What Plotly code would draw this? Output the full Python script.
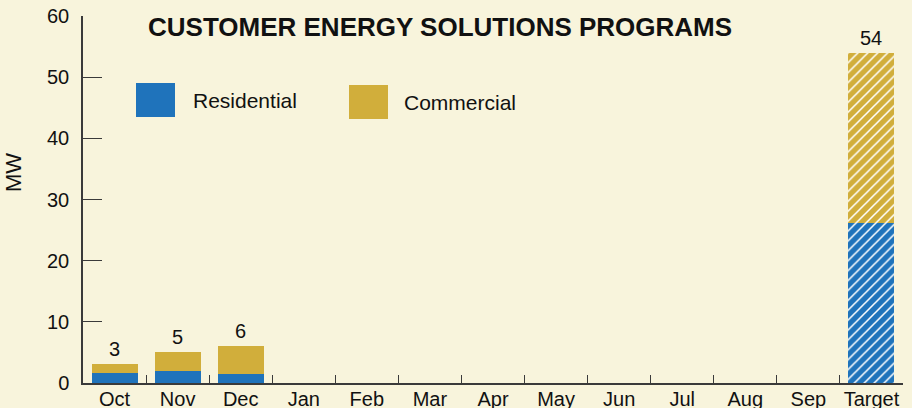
import plotly.graph_objects as go

categories = ["Oct", "Nov", "Dec", "Jan", "Feb", "Mar", "Apr", "May", "Jun",
              "Jul", "Aug", "Sep", "Target"]
residential = [1.7, 2.0, 1.5, None, None, None, None, None, None, None, None, None, 26.2]
commercial = [1.45, 3.1, 4.6, None, None, None, None, None, None, None, None, None, 27.8]
total_labels = ["3", "5", "6", None, None, None, None, None, None, None, None, None, "54"]
y_ticks = [0, 10, 20, 30, 40, 50, 60]
title_text = "CUSTOMER ENERGY SOLUTIONS PROGRAMS"

BLUE = "#1F73BB"
GOLD = "#D1AE3B"
BG = "#F8F4DC"
INK = "#111111"
AXIS = "#3a3a3a"
FONT = "Liberation Sans, Arial, Helvetica, sans-serif"

shapes_pattern = ["" if c != "Target" else "/" for c in categories]

fig = go.Figure()
fig.add_trace(go.Bar(
    x=categories, y=residential, name="Residential",
    marker=dict(color=BLUE, line=dict(width=0),
                pattern=dict(shape=shapes_pattern, fgcolor="white", bgcolor=BLUE,
                             size=7, solidity=0.22, fillmode="replace")),
    width=0.73,
))
fig.add_trace(go.Bar(
    x=categories, y=commercial, name="Commercial",
    marker=dict(color=GOLD, line=dict(width=0),
                pattern=dict(shape=shapes_pattern, fgcolor="white", bgcolor=GOLD,
                             size=7, solidity=0.22, fillmode="replace")),
    width=0.73,
))

annotations = []
for cat, r, c, lab in zip(categories, residential, commercial, total_labels):
    if lab is None:
        continue
    annotations.append(dict(
        x=cat, y=(r or 0) + (c or 0), xref="x", yref="y", text=lab,
        showarrow=False, yanchor="bottom", yshift=2,
        font=dict(family=FONT, size=20, color=INK)))

# title
annotations.append(dict(
    x=(146 - 83) / 820, y=(383 - 27.5) / 367, xref="paper", yref="paper",
    text=title_text, showarrow=False, xanchor="left", yanchor="middle",
    font=dict(family=FONT, size=26, color=INK, weight="bold")))
# y axis title
annotations.append(dict(
    x=(13 - 83) / 820, y=(383 - 173) / 367, xref="paper", yref="paper",
    text="MW", showarrow=False, textangle=-90, xanchor="center", yanchor="middle",
    font=dict(family=FONT, size=22, color=INK)))

# legend (custom)
legend_items = [("Residential", BLUE, 136, 83, 191), ("Commercial", GOLD, 349, 85, 402)]
shapes = []
for name, col, x0, y0, tx in legend_items:
    shapes.append(dict(type="rect", xref="paper", yref="paper",
                       x0=(x0 - 83) / 820, x1=(x0 + 39 - 83) / 820,
                       y0=(383 - y0 - 34) / 367, y1=(383 - y0) / 367,
                       fillcolor=col, line=dict(width=0)))
    annotations.append(dict(
        x=(tx - 83) / 820, y=(383 - (y0 + 17)) / 367, xref="paper", yref="paper",
        text=name, showarrow=False, xanchor="left", yanchor="middle",
        font=dict(family=FONT, size=21, color=INK)))

fig.update_layout(
    width=912, height=408,
    margin=dict(l=83, r=9, t=16, b=25, autoexpand=False),
    paper_bgcolor=BG, plot_bgcolor=BG,
    barmode="stack", showlegend=False,
    font=dict(family=FONT, size=20, color=INK),
    annotations=annotations, shapes=shapes,
    xaxis=dict(type="category", range=[-0.5, 12.5], tickson="boundaries",
               ticks="inside", ticklen=8, tickwidth=1.3, tickcolor=AXIS,
               showline=True, linecolor=AXIS, linewidth=1.5, showgrid=False,
               zeroline=False, tickangle=0, automargin=False, ticklabelstandoff=-3,
               tickfont=dict(size=20, color=INK), fixedrange=True),
    yaxis=dict(range=[0, 60], tickvals=y_ticks, ticks="inside", ticklen=19,
               tickwidth=1.3, tickcolor=AXIS, showline=True, linecolor=AXIS,
               linewidth=1.5, showgrid=False, zeroline=False, automargin=False,
               ticklabelstandoff=8, tickfont=dict(size=20, color=INK), fixedrange=True),
)

fig.write_html("out.html", config={"displayModeBar": False},
               post_script="document.body.style.margin='0';document.body.style.background='%s';" % BG)
